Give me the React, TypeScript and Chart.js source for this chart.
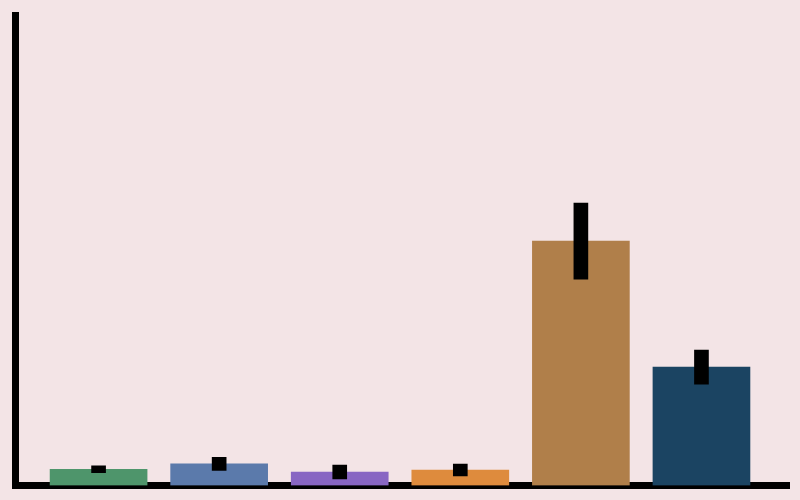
import { useEffect, useRef } from 'react'
import Chart from 'chart.js/auto'

// six groups, no visible labels in the picture
const categories = ['A', 'B', 'C', 'D', 'E', 'F']
const means = [3.45, 4.6, 2.87, 3.3, 52.0, 25.2]
const errors = [0.74, 1.38, 1.49, 1.28, 8.09, 3.62]
const barColors = ['#4e956b', '#5b7aab', '#8866c3', '#de8b3d', '#b07f4a', '#1b4462']

const BG = '#f3e4e6'

export default function App() {
  const canvasRef = useRef<HTMLCanvasElement>(null)
  const chartRef = useRef<Chart | null>(null)

  useEffect(() => {
    if (!canvasRef.current) return
    if (chartRef.current) chartRef.current.destroy()

    const ctx = canvasRef.current.getContext('2d')
    if (!ctx) return

    const axis = {
      grid: { display: false, drawTicks: false },
      ticks: { display: false },
      border: { display: true, color: '#000', width: 7 },
    }

    chartRef.current = new Chart(ctx, {
      type: 'bar',
      data: {
        labels: categories,
        datasets: [
          {
            // error bars as thick floating bars
            data: means.map((m, i) => ({ x: i, y: [m - errors[i], m + errors[i]] })) as any,
            backgroundColor: '#000',
            barThickness: 14,
            grouped: false,
            order: 0,
          },
          {
            data: means.map((m, i) => ({ x: i, y: m })) as any,
            backgroundColor: barColors,
            barThickness: 97,
            grouped: false,
            order: 1,
          },
        ],
      },
      options: {
        responsive: false,
        animation: false,
        layout: { padding: { left: 15.5, top: 15.5, right: 11, bottom: 14.5 } },
        plugins: {
          legend: { display: false },
          tooltip: { enabled: false },
        },
        scales: {
          x: { type: 'linear', offset: false, min: -0.689, max: 5.726, ...axis },
          y: { min: 0, max: 100, ...axis },
        },
      },
    })

    return () => {
      if (chartRef.current) chartRef.current.destroy()
    }
  }, [])

  return (
    <div style={{ position: 'fixed', left: 0, top: 0, width: 800, height: 500, background: BG }}>
      <canvas ref={canvasRef} width={800} height={500} style={{ width: 800, height: 500 }} />
    </div>
  )
}
